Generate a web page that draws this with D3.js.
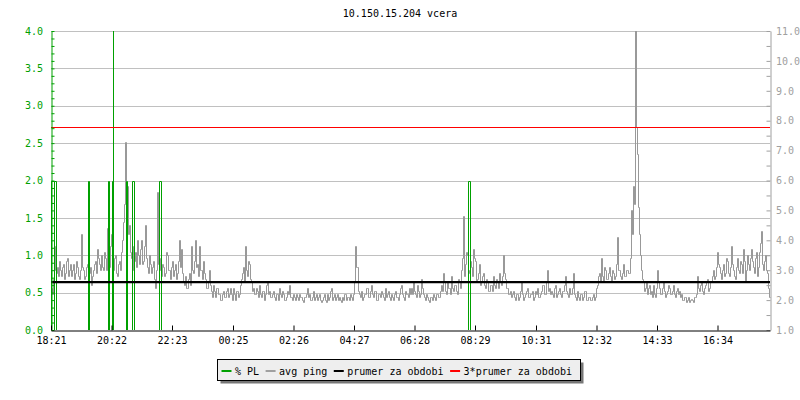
<!DOCTYPE html>
<html><head><meta charset="utf-8">
<script src="https://cdn.jsdelivr.net/npm/d3@7"></script>
<style>
body{margin:0;background:#fff;}
svg text{font-family:"DejaVu Sans Mono",monospace;font-size:10px;}
</style></head>
<body><svg id="c" width="800" height="400"></svg>
<script>
const title = "10.150.15.204 vcera";
const startClock = "18:21";
const spanMinutes = 1438;
const xTickLabels = ["18:21","20:22","22:23","00:25","02:26","04:27","06:28","08:29","10:31","12:32","14:33","16:34"];
const leftTicks = [0,0.5,1,1.5,2,2.5,3,3.5,4];
const rightTicks = [1,2,3,4,5,6,7,8,9,10,11];
const pingStepMinutes = 2;
const pingValues = [
2.4,2.2,2.7,3.0,3.8,2.9,3.1,2.8,3.3,3.0,
2.8,3.1,3.2,2.7,2.9,3.3,3.4,2.8,3.0,3.2,
2.8,3.0,3.2,2.7,2.9,3.3,3.1,2.8,2.7,3.0,
4.2,3.1,3.0,2.7,2.8,3.1,3.2,2.6,2.9,3.1,
2.5,2.8,3.0,3.2,3.3,2.9,3.7,3.4,3.2,3.0,
3.5,3.1,3.0,3.6,3.4,3.0,4.4,3.3,3.1,3.8,
4.2,3.2,3.0,3.4,3.5,2.9,2.8,3.2,3.3,3.0,
3.6,4.0,4.6,5.2,7.3,4.8,5.8,4.2,4.5,3.6,
3.4,3.8,3.0,3.3,3.6,3.1,4.0,3.5,3.2,3.7,
4.0,3.2,3.3,3.8,4.5,3.4,3.1,2.9,3.5,3.2,
2.9,3.1,3.3,2.7,2.4,3.0,5.6,3.2,3.4,3.0,
2.8,3.2,3.1,2.8,2.9,3.6,3.5,3.0,3.0,2.7,
3.1,3.3,2.8,3.0,3.2,2.7,2.9,3.3,4.0,3.1,
3.7,2.9,2.6,2.5,2.8,2.4,2.4,2.7,2.9,2.5,
3.8,3.0,2.9,3.3,4.0,3.1,3.2,2.8,3.8,3.0,
3.0,2.7,3.3,2.9,2.7,2.4,2.4,2.6,3.0,2.5,
2.3,2.1,2.5,2.3,2.1,2.4,2.4,2.2,2.2,2.0,
2.0,2.2,2.3,2.1,2.1,2.3,2.4,2.1,2.2,2.4,
2.2,2.0,2.4,2.2,2.0,2.3,2.3,2.1,2.2,2.5,
2.7,2.9,3.1,2.6,3.8,3.0,2.8,3.3,3.2,2.7,
2.6,2.3,2.4,2.2,2.2,2.4,2.3,2.1,2.5,2.2,
2.1,2.3,2.3,2.0,2.2,2.5,2.6,2.2,2.3,2.1,
2.1,2.2,2.3,2.1,2.0,2.2,2.2,2.0,2.4,2.2,
2.1,2.3,2.2,2.0,2.0,2.1,2.3,2.2,2.5,2.1,
2.1,2.0,2.2,2.1,2.0,2.2,2.1,2.0,2.2,2.1,
2.1,2.0,1.95,2.1,2.1,2.2,2.4,2.1,2.2,2.0,
2.0,2.1,2.3,2.0,2.1,2.2,2.0,2.1,2.2,2.0,
1.95,2.0,2.1,2.2,2.0,1.95,2.2,2.0,2.1,2.3,
2.4,2.0,2.1,2.2,2.0,2.1,2.2,2.0,2.1,2.0,
1.95,2.1,2.0,2.2,2.2,2.0,2.1,2.1,2.0,2.2,
2.1,2.0,2.2,2.6,3.8,3.1,3.1,2.3,2.2,2.1,
2.3,2.0,2.1,2.2,2.2,2.4,2.4,2.1,2.1,2.3,
2.5,2.2,2.1,2.3,2.3,2.0,2.0,2.2,2.2,2.1,
2.3,2.2,2.1,2.0,2.4,2.1,2.2,2.3,2.1,2.0,
2.2,2.1,2.0,2.2,2.3,2.1,2.1,2.0,2.2,2.4,
2.5,2.2,2.1,2.0,2.3,2.2,2.2,2.1,2.4,2.2,
2.4,2.2,2.6,2.3,2.2,2.1,2.5,2.3,2.1,2.2,
2.7,2.4,2.2,2.1,2.0,2.2,2.1,2.0,1.95,2.1,
2.1,2.0,2.2,2.1,2.0,2.2,2.2,2.1,2.1,2.3,
2.5,2.3,2.9,2.6,2.3,2.2,2.6,2.4,2.4,2.2,
2.8,2.4,2.3,2.5,2.5,2.3,2.2,2.7,2.6,2.4,
3.0,3.4,4.8,2.8,3.2,3.6,3.5,3.0,2.9,3.3,
3.1,2.8,3.7,3.4,3.3,2.6,2.7,2.9,3.2,2.5,
2.6,2.8,2.9,2.5,2.4,2.7,2.6,2.3,2.3,2.5,
2.5,2.3,2.8,2.5,2.4,2.7,2.6,2.4,2.9,2.6,
2.5,2.8,3.5,2.9,2.7,2.4,2.4,2.2,2.2,2.3,
2.1,2.2,2.3,2.1,2.0,2.2,2.2,2.0,2.1,2.3,
2.6,2.2,2.0,2.1,2.2,2.3,2.4,2.1,2.1,2.2,
2.2,2.3,2.0,2.1,2.3,2.2,2.4,2.1,2.1,2.2,
2.3,2.5,2.5,2.2,2.2,2.6,3.0,2.3,2.4,2.2,
2.3,2.2,2.1,2.4,2.5,2.1,2.2,2.3,2.4,2.2,
2.1,2.3,2.3,2.5,2.8,2.3,2.2,2.1,2.4,2.2,
2.2,2.4,2.9,2.2,2.1,2.0,2.3,2.1,2.0,2.2,
2.2,2.0,2.1,2.3,2.3,2.0,2.0,2.1,2.1,2.0,
2.0,2.1,2.2,2.0,2.1,2.4,2.5,2.8,2.9,2.6,
3.4,2.8,2.6,3.1,3.0,2.7,2.7,2.9,3.1,2.8,
2.6,3.0,2.9,2.7,2.8,3.2,4.1,3.0,3.0,2.8,
2.7,2.9,3.2,2.8,2.8,3.0,3.0,2.9,2.9,3.4,
5.0,4.2,5.8,5.2,12,7.8,6.9,5.1,4.2,3.5,
3.0,2.7,2.6,2.3,2.4,2.6,2.2,2.4,2.5,2.2,
2.3,2.1,2.5,2.2,2.1,2.4,3.0,2.6,2.4,2.2,
2.2,2.4,2.6,2.3,2.1,2.2,2.3,2.5,2.4,2.2,
2.2,2.3,2.5,2.2,2.1,2.3,2.4,2.2,2.3,2.1,
2.2,2.0,2.0,2.1,2.1,1.95,2.0,2.1,1.95,2.0,
2.05,2.0,1.95,2.1,2.1,2.2,2.8,2.4,2.3,2.5,
2.6,2.3,2.2,2.4,2.5,2.6,2.7,2.3,2.4,2.6,
2.6,2.8,3.0,2.7,2.8,3.1,3.6,3.2,3.1,2.9,
2.7,3.0,3.2,2.8,2.9,3.4,3.3,2.9,2.8,3.1,
3.8,3.2,3.0,2.8,2.7,3.1,3.4,3.0,2.9,3.3,
3.2,2.9,3.7,3.3,2.6,3.0,3.5,3.2,3.0,3.4,
3.7,3.3,3.1,2.9,3.4,3.6,2.8,3.1,3.6,3.9,
4.3,3.2,3.0,3.3,3.5,3.0,2.9,2.4,2.1
];
// packet loss events (minutes from start, end, percent)
const plStart = [0, 6, 74, 114, 122, 124, 149, 162, 216, 834];
const plEnd   = [5, 9, 76, 115, 124, 124, 151, 165, 219, 837];
const plValue = [2, 2, 2, 2, 2, 10, 2, 2, 2, 2];
const meanPing = 2.6;
const tripleMeanPing = 7.8;
const legendLabels = ["% PL","avg ping","prumer za obdobi","3*prumer za obdobi"];
const legendColors = ["#00a000","#a0a0a0","#000000","#ff0000"];

const GREEN = "#00a000", GRAY = "#999999", GRID = "#c0c0c0", AXGRAY = "#a0a0a0";
const svg = d3.select("#c");
const L = 51, R = 770, T = 31, B = 330;

const base = new Date(2020,0,1, +startClock.split(":")[0], +startClock.split(":")[1]);
const addMin = m => new Date(base.getTime() + m*60000);
const x = d3.scaleTime().domain([base, addMin(spanMinutes)]).range([L, R]);
const yL = d3.scaleLinear().domain([0,4]).range([B, T]);
const yR = d3.scaleLinear().domain([1,11]).range([B, T]);
const px = v => Math.round(v) + 0.5;

const startMin = +startClock.split(":")[0]*60 + +startClock.split(":")[1];
const tickDates = xTickLabels.map(s => {
  let m = +s.split(":")[0]*60 + +s.split(":")[1] - startMin;
  if (m < 0) m += 1440;
  return addMin(m);
});

svg.append("defs").append("clipPath").attr("id","plot")
  .append("rect").attr("x",L).attr("y",T).attr("width",R-L+1).attr("height",B-T);

// title
svg.append("text").attr("x",400).attr("y",17).attr("text-anchor","middle").attr("fill","#000").text(title);

// gridlines
svg.append("g").selectAll("line").data(leftTicks.filter(v=>v>0)).join("line")
  .attr("x1",L).attr("x2",R).attr("y1",d=>px(yL(d))).attr("y2",d=>px(yL(d)))
  .attr("stroke",GRID).attr("stroke-width",1);

const plot = svg.append("g").attr("clip-path","url(#plot)");

// ping
const pingData = pingValues.map((v,i)=>({t:addMin(i*pingStepMinutes), v}));
pingData.push({t:addMin(spanMinutes), v:pingValues[pingValues.length-1]});
plot.append("path").datum(pingData)
  .attr("d", d3.line().x(d=>px(x(d.t))).y(d=>px(yR(d.v))).curve(d3.curveStepAfter))
  .attr("fill","none").attr("stroke",GRAY).attr("stroke-width",1);

// packet loss
const plLine = d3.line().x(d=>px(x(d[0]))).y(d=>px(yL(d[1])));
plStart.forEach((s,i)=>{
  const pts = [[addMin(s),0],[addMin(s),plValue[i]],[addMin(plEnd[i]),plValue[i]],[addMin(plEnd[i]),0]];
  plot.append("path").attr("d",plLine(pts)).attr("fill","none").attr("stroke",GREEN).attr("stroke-width",1);
});

// mean lines
plot.append("line").attr("x1",L).attr("x2",R).attr("y1",yR(meanPing)).attr("y2",yR(meanPing))
  .attr("stroke","#000").attr("stroke-width",2.4);
plot.append("line").attr("x1",L).attr("x2",R).attr("y1",px(yR(tripleMeanPing))).attr("y2",px(yR(tripleMeanPing)))
  .attr("stroke","#ff0000").attr("stroke-width",1);

// left axis
const gl = svg.append("g").attr("transform",`translate(${L+0.5},0)`)
  .call(d3.axisRight(yL).tickValues(d3.range(0,41).map(i=>i/10)).tickSize(3).tickSizeOuter(0).tickFormat(""));
gl.select(".domain").attr("stroke",GREEN);
gl.selectAll(".tick line").attr("stroke",GREEN);
const gll = svg.append("g").attr("transform",`translate(${L},0)`)
  .call(d3.axisLeft(yL).tickValues(leftTicks).tickSize(0).tickPadding(8).tickFormat(d3.format(".1f")));
gll.select(".domain").remove();
gll.selectAll("text").attr("fill",GREEN).style("font-family",'"DejaVu Sans Mono",monospace').style("font-size","10px");

// right axis
const gr = svg.append("g").attr("transform",`translate(${R+0.5},0)`)
  .call(d3.axisLeft(yR).tickValues(d3.range(2,23).map(i=>i/2)).tickSize(4).tickSizeOuter(0).tickFormat(""));
gr.select(".domain").attr("stroke",AXGRAY);
gr.selectAll(".tick line").attr("stroke",AXGRAY);
const grl = svg.append("g").attr("transform",`translate(${R},0)`)
  .call(d3.axisRight(yR).tickValues(rightTicks).tickSize(0).tickPadding(6).tickFormat(d3.format(".1f")));
grl.select(".domain").remove();
grl.selectAll("text").attr("fill",AXGRAY).style("font-family",'"DejaVu Sans Mono",monospace').style("font-size","10px");

// bottom axis
const gb = svg.append("g").attr("transform",`translate(0,${B+0.5})`)
  .call(d3.axisTop(x).tickValues(tickDates).tickSize(5).tickSizeOuter(0).tickFormat(""));
gb.select(".domain").attr("stroke","#000");
gb.selectAll(".tick line").attr("stroke","#000");
const gbl = svg.append("g").attr("transform",`translate(0,${B})`)
  .call(d3.axisBottom(x).tickValues(tickDates).tickSize(0).tickPadding(7).tickFormat((d,i)=>xTickLabels[i]));
gbl.select(".domain").remove();
gbl.selectAll("text").attr("fill","#000").style("font-family",'"DejaVu Sans Mono",monospace').style("font-size","10px");

// legend
const lg = svg.append("g");
const lx0 = 217.5, ly0 = 359.5, lw = 363, lh = 21;
lg.append("rect").attr("x",lx0+3).attr("y",ly0+3).attr("width",lw).attr("height",lh).attr("fill","#777");
lg.append("rect").attr("x",lx0).attr("y",ly0).attr("width",lw).attr("height",lh).attr("fill","#eeeeee").attr("stroke","#000").attr("stroke-width",1);
let cx = 221.5;
legendLabels.forEach((lab,i)=>{
  lg.append("line").attr("x1",cx).attr("x2",cx+10).attr("y1",371).attr("y2",371)
    .attr("stroke",legendColors[i]).attr("stroke-width",2);
  const t = lg.append("text").attr("x",cx+13.5).attr("y",374.5).attr("fill","#000").text(lab);
  cx = cx + 13.5 + t.node().getComputedTextLength() + 6.5;
});
</script></body></html>
